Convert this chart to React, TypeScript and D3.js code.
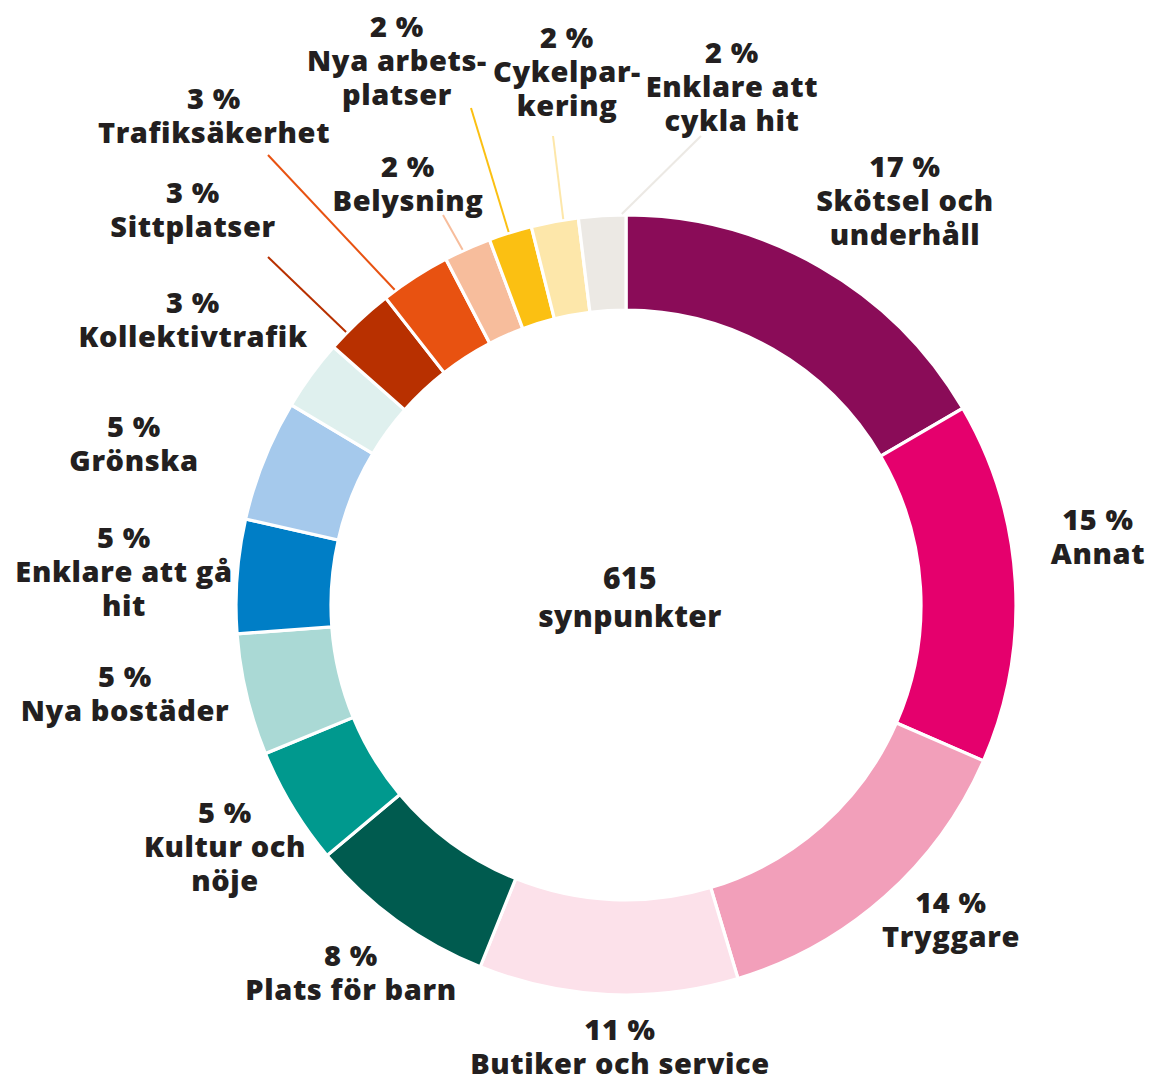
import React from "react";
import * as d3 from "d3";

// ---- data ----
const categories: string[] = [
  "Skötsel och|underhåll",
  "Annat",
  "Tryggare",
  "Butiker och service",
  "Plats för barn",
  "Kultur och|nöje",
  "Nya bostäder",
  "Enklare att gå|hit",
  "Grönska",
  "Kollektivtrafik",
  "Sittplatser",
  "Trafiksäkerhet",
  "Belysning",
  "Nya arbets-|platser",
  "Cykelpar-|kering",
  "Enklare att|cykla hit",
];
const values: number[] = [102, 92, 85, 66, 48, 30, 31, 29, 31, 18, 18, 18, 12, 11, 12, 12];
const totalLabel = "synpunkter";

// ---- styling / layout ----
const colors: string[] = [
  "#8A0C58", "#E5006D", "#F29FBA", "#FCE1EA", "#005B4F", "#00998E", "#AAD9D5", "#007EC6",
  "#A5C9EC", "#DFF0EE", "#B83000", "#E85211", "#F7BD9C", "#FBC012", "#FDE7AA", "#ECE9E4",
];
// label anchor (center x, first baseline) relative to chart center;
// optional leader start point and angular offset (deg) of its end on the ring
const labelLayout: { x: number; y: number; leader?: [number, number]; da?: number }[] = [
  { x: 279, y: -428 },
  { x: 472, y: -75 },
  { x: 325, y: 308 },
  { x: -6, y: 435 },
  { x: -275, y: 361 },
  { x: -401, y: 218 },
  { x: -501, y: 82 },
  { x: -502, y: -57 },
  { x: -492, y: -168 },
  { x: -433, y: -292 },
  { x: -433, y: -402, leader: [-358, -348], da: -2.4 },
  { x: -412, y: -496, leader: [-358, -450], da: -3.5 },
  { x: -218, y: -428, leader: [-183, -390], da: -0.7 },
  { x: -229, y: -568, leader: [-155, -497], da: -0.2 },
  { x: -59, y: -557, leader: [-73, -469], da: 1.3 },
  { x: 106, y: -542, leader: [75, -469], da: 2.9 },
];

const W = 1151;
const H = 1084;
const CX = 626;
const CY = 605;
const R_OUT = 390;
const R_IN = 295;
const FONT = "'Open Sans', sans-serif";
const TEXT = "#231F20";
const FS = 29;
const LS = 0.6;
const LH = 34;

export default function App() {
  const total = d3.sum(values);
  const pie = d3
    .pie<number>()
    .sort(null)
    .value((d) => d)
    .startAngle(0)
    .endAngle(2 * Math.PI);
  const arcs = pie(values);
  const arc = d3.arc<d3.PieArcDatum<number>>().innerRadius(R_IN).outerRadius(R_OUT);

  return (
    <svg
      width={W}
      height={H}
      viewBox={`0 0 ${W} ${H}`}
      style={{ position: "absolute", left: 0, top: 0, background: "#fff" }}
    >
      <g transform={`translate(${CX},${CY})`}>
        {arcs.map((a, i) => (
          <path key={i} d={arc(a) || ""} fill={colors[i]} stroke="#fff" strokeWidth={3.2} />
        ))}
        {arcs.map((a, i) => {
          const lay = labelLayout[i];
          if (!lay.leader) return null;
          const mid = (a.startAngle + a.endAngle) / 2 + ((lay.da || 0) * Math.PI) / 180;
          const ex = Math.sin(mid) * (R_OUT + 1);
          const ey = -Math.cos(mid) * (R_OUT + 1);
          return (
            <line
              key={"l" + i}
              x1={lay.leader[0]}
              y1={lay.leader[1]}
              x2={ex}
              y2={ey}
              stroke={colors[i]}
              strokeWidth={2}
            />
          );
        })}
        {arcs.map((a, i) => {
          const lay = labelLayout[i];
          const pct = Math.round((values[i] / total) * 100);
          const lines = [`${pct}\u00A0%`, ...categories[i].split("|")];
          return (
            <g key={"t" + i}>
              {lines.map((ln, j) => (
                <text
                  key={j}
                  x={lay.x}
                  y={lay.y + j * LH}
                  textAnchor="middle"
                  fontFamily={FONT}
                  fontWeight={800}
                  fontSize={FS}
                  letterSpacing={LS}
                  fill={TEXT}
                >
                  {ln}
                </text>
              ))}
            </g>
          );
        })}
        <text textAnchor="middle" fontFamily={FONT} fontWeight={800} fontSize={30} letterSpacing={0.4} fill={TEXT}>
          <tspan x={4} y={-16}>{String(total)}</tspan>
          <tspan x={4} y={22}>{totalLabel}</tspan>
        </text>
      </g>
    </svg>
  );
}
